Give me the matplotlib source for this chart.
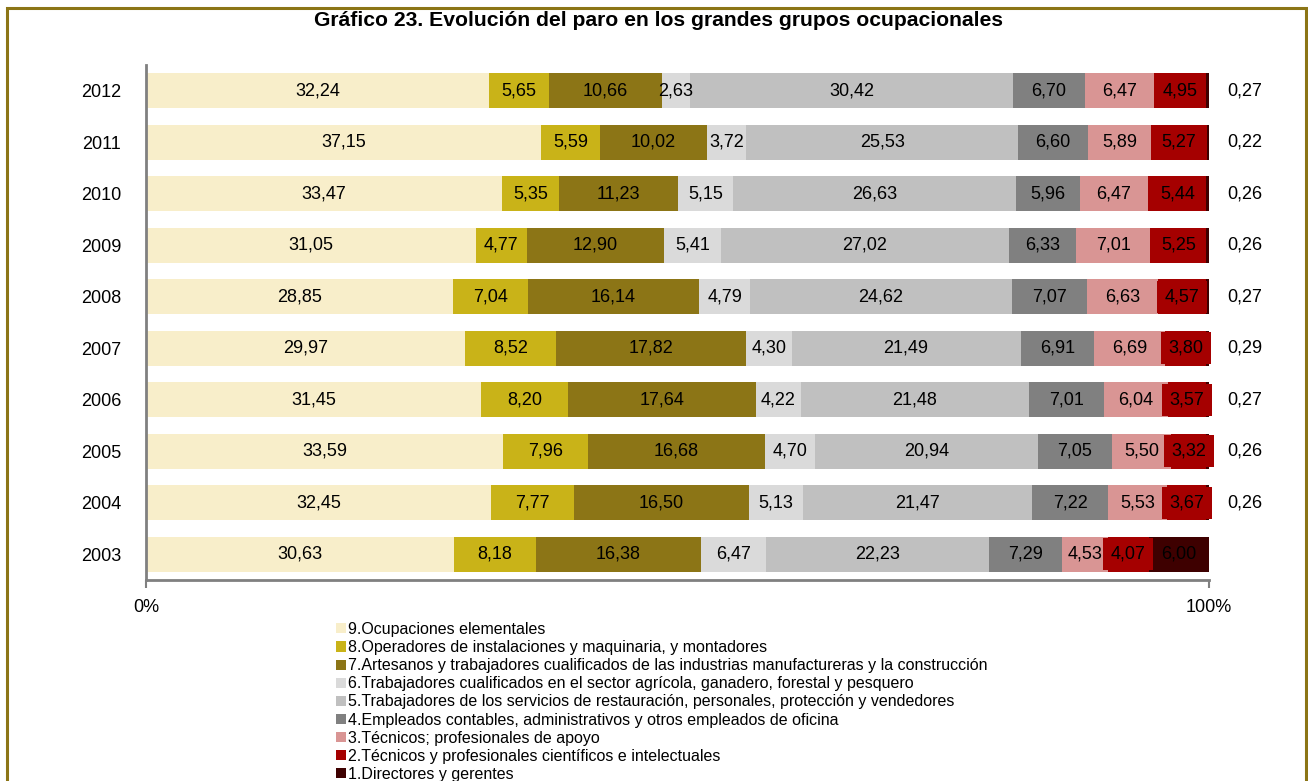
import matplotlib
matplotlib.use("Agg")
import matplotlib.pyplot as plt
from matplotlib.patches import Rectangle
import numpy as np

plt.rcParams['font.family'] = ['Liberation Sans', 'DejaVu Sans']

years = ["2012", "2011", "2010", "2009", "2008", "2007", "2006", "2005", "2004", "2003"]
g9 = [32.24, 37.15, 33.47, 31.05, 28.85, 29.97, 31.45, 33.59, 32.45, 30.63]
g8 = [5.65, 5.59, 5.35, 4.77, 7.04, 8.52, 8.20, 7.96, 7.77, 8.18]
g7 = [10.66, 10.02, 11.23, 12.90, 16.14, 17.82, 17.64, 16.68, 16.50, 16.38]
g6 = [2.63, 3.72, 5.15, 5.41, 4.79, 4.30, 4.22, 4.70, 5.13, 6.47]
g5 = [30.42, 25.53, 26.63, 27.02, 24.62, 21.49, 21.48, 20.94, 21.47, 22.23]
g4 = [6.70, 6.60, 5.96, 6.33, 7.07, 6.91, 7.01, 7.05, 7.22, 7.29]
g3 = [6.47, 5.89, 6.47, 7.01, 6.63, 6.69, 6.04, 5.50, 5.53, 4.53]
g2 = [4.95, 5.27, 5.44, 5.25, 4.57, 3.80, 3.57, 3.32, 3.67, 4.07]
g1 = [0.27, 0.22, 0.26, 0.26, 0.27, 0.29, 0.27, 0.26, 0.26, 6.00]

series = [g9, g8, g7, g6, g5, g4, g3, g2, g1]
labels = [
    "9.Ocupaciones elementales",
    "8.Operadores de instalaciones y maquinaria, y montadores",
    "7.Artesanos y trabajadores cualificados de las industrias manufactureras y la construcción",
    "6.Trabajadores cualificados en el sector agrícola, ganadero, forestal y pesquero",
    "5.Trabajadores de los servicios de restauración, personales, protección y vendedores",
    "4.Empleados contables, administrativos y otros empleados de oficina",
    "3.Técnicos; profesionales de apoyo",
    "2.Técnicos y profesionales científicos e intelectuales",
    "1.Directores y gerentes",
]
colors = ["#F8EECA", "#C9B318", "#8C7516", "#DADADA", "#C0C0C0", "#808080",
          "#D99594", "#A50000", "#3E0000"]

FS = 13

fig = plt.figure(figsize=(13.08, 7.81), dpi=100)
# outer frame
fig.patches.append(Rectangle((7/1308, -0.05), (1306-7)/1308, 1 - 8/781 + 0.05,
                             transform=fig.transFigure, fill=False,
                             edgecolor="#8C7516", linewidth=2.2))

ax = fig.add_axes([146/1308, 1 - 580/781, (1209-146)/1308, (580-65)/781])

data = np.array(series, dtype=float)
totals = data.sum(axis=0)
pct = data / totals * 100
y = np.arange(len(years))
left = np.zeros(len(years))
bar_h = 0.68
for i, (vals, col, lab) in enumerate(zip(pct, colors, labels)):
    ax.barh(y, vals, left=left, height=bar_h, color=col, label=lab, edgecolor="none")
    for j in range(len(years)):
        raw = series[i][j]
        txt = f"{raw:.2f}".replace(".", ",")
        cx = left[j] + vals[j] / 2
        if i == 8 and raw < 1:
            ax.text(103.4, y[j], txt, ha="center", va="center", fontsize=FS,
                    color="black", clip_on=False)
        elif i == 7:
            ax.text(cx, y[j], txt, ha="center", va="center", fontsize=FS,
                    color="black",
                    bbox=dict(boxstyle="square,pad=0.42", facecolor="#A50000",
                              edgecolor="none"))
        else:
            ax.text(cx, y[j], txt, ha="center", va="center", fontsize=FS,
                    color="black")
    left += vals

ax.set_xlim(0, 100)
ax.set_ylim(len(years) - 0.5, -0.5)
ax.set_yticks(y)
ax.set_yticklabels(years, fontsize=FS)
ax.tick_params(axis="y", length=0, pad=18)
ax.set_xticks([0, 100])
ax.set_xticklabels(["0%", "100%"], fontsize=FS)
ax.tick_params(axis="x", length=6, color="#808080", width=1.5, pad=8)
for s in ["top", "right"]:
    ax.spines[s].set_visible(False)
for s in ["left", "bottom"]:
    ax.spines[s].set_color("#808080")
    ax.spines[s].set_linewidth(2)

fig.text(659/1308, 1 - 21/781, "Gráfico 23. Evolución del paro en los grandes grupos ocupacionales",
         ha="center", va="center", fontsize=15.2, fontweight="bold")

leg = fig.legend(loc="upper left", bbox_to_anchor=(336/1308, 1 - 622/781),
                 frameon=False, fontsize=11.5, handlelength=0.6, handleheight=0.6,
                 handletextpad=0.15, labelspacing=0.195, borderaxespad=0,
                 borderpad=0)

fig.savefig("out.png", dpi=100)
